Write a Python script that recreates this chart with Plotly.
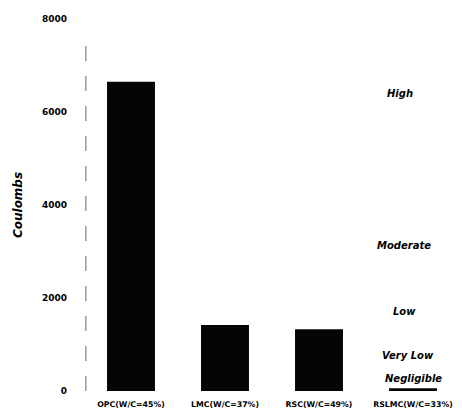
import plotly.graph_objects as go

# Charge passed (coulombs) per concrete mix
mixes = ["OPC(W/C=45%)", "LMC(W/C=37%)", "RSC(W/C=49%)", "RSLMC(W/C=33%)"]
coulombs = [6650, 1420, 1330, 60]

# Chloride-ion penetrability classes, with the charge level each label sits at
class_names = ["High", "Moderate", "Low", "Very Low", "Negligible"]
class_levels = [6400, 3120, 1700, 770, 260]
class_xpos = [2.86, 2.90, 2.91, 2.95, 3.0]

y_ticks = [0, 2000, 4000, 6000, 8000]

fig = go.Figure()
fig.add_trace(go.Bar(
    x=list(range(len(mixes))),
    y=coulombs,
    marker=dict(color="#050505", line=dict(width=0)),
    width=0.51,
))

# faint broken vertical axis line
fig.add_shape(type="line", xref="paper", yref="y", x0=0.005, x1=0.005, y0=0, y1=7600,
              line=dict(color="#666666", width=1, dash="longdash"))

for name, lvl, xp in zip(class_names, class_levels, class_xpos):
    fig.add_annotation(
        x=xp, y=lvl, xref="x", yref="y", text=name, showarrow=False,
        font=dict(family="DejaVu Sans", size=10, color="black", weight="bold", style="italic"),
    )

fig.update_layout(
    width=462, height=413,
    margin=dict(l=84, r=2, t=19, b=22),
    paper_bgcolor="white", plot_bgcolor="white",
    showlegend=False,
    bargap=0.49,
    xaxis=dict(
        tickmode="array",
        tickvals=list(range(len(mixes))),
        ticktext=mixes,
        range=[-0.5, 3.5],
        showgrid=False, zeroline=False, showline=False,
        ticks="", ticklabelstandoff=7,
        tickfont=dict(family="DejaVu Sans", size=7.8, color="black", weight="bold"),
    ),
    yaxis=dict(
        range=[0, 8000],
        tickmode="array",
        tickvals=y_ticks,
        ticktext=[str(v) for v in y_ticks],
        showgrid=False, zeroline=False, showline=False,
        ticks="", ticklabelstandoff=16,
        tickfont=dict(family="DejaVu Sans", size=9, color="black", weight="bold"),
        title=dict(text="Coulombs", standoff=16,
                   font=dict(family="DejaVu Sans", size=12, color="black",
                             weight="bold", style="italic")),
    ),
)

fig.write_html("out.html")
